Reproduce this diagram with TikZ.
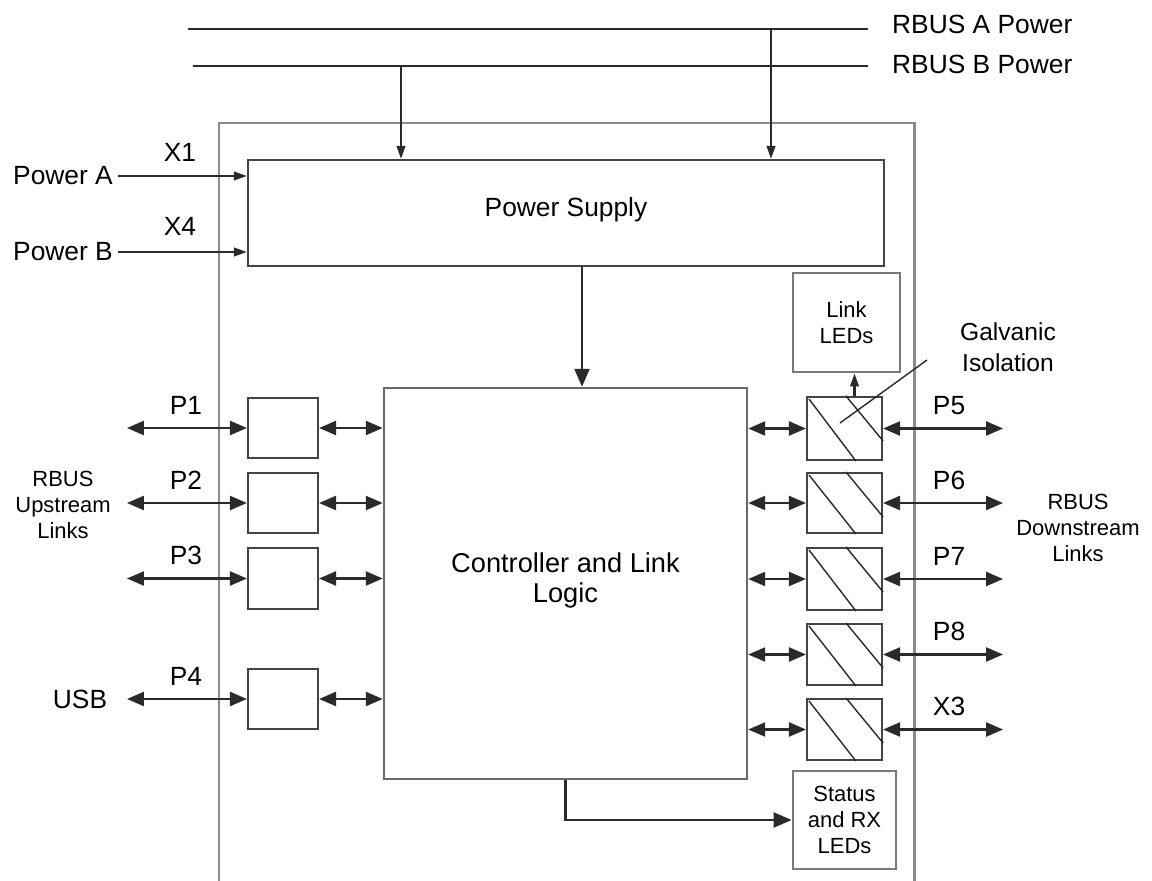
\documentclass[tikz,border=0pt]{standalone}
\usepackage{fontspec}
\setmainfont{Liberation Sans}
\usetikzlibrary{arrows.meta,fit}
\definecolor{linegray}{HTML}{2A2A2A}
\definecolor{boxgray}{HTML}{444444}
\definecolor{framegray}{HTML}{8C8C8C}
\definecolor{ledgray}{HTML}{7A7A7A}
\tikzset{
  unitbox/.style={draw=boxgray, line width=1.2pt, inner sep=0pt},
  ledbox/.style={draw=ledgray, line width=1.6pt, inner sep=0pt},
  hatch/.style={draw=linegray, line width=0.8pt},
  link/.style={draw=linegray, line width=1.3pt},
  biglink/.style={link, {Triangle[length=0.34cm,width=0.28cm]}-{Triangle[length=0.34cm,width=0.28cm]}},
  feed/.style={link, -{Triangle[length=0.26cm,width=0.17cm]}},
  bigfeed/.style={link, -{Triangle[length=0.36cm,width=0.3cm]}},
  lbl/.style={font=\fontsize{15}{17}\selectfont},
  smalllbl/.style={align=center, font=\fontsize{12.5}{14.8}\selectfont},
}
\begin{document}
\begin{tikzpicture}[x=0.02cm,y=-0.02cm]
\useasboundingbox (0,0) rectangle (1152,881);

\draw[framegray, line width=1.7pt] (219,881) |- (914,123) -- (914,881);

\coordinate (busAw) at (188,29);
\coordinate (busAe) at (868,29);
\coordinate (busBw) at (193,66);
\coordinate (busBe) at (868,66);
\draw[link] (busAw) -- (busAe);
\draw[link] (busBw) -- (busBe);
\node[lbl, anchor=west] (busAlbl) at (886,24) {RBUS A Power};
\node[lbl, anchor=west] (busBlbl) at (886,64) {RBUS B Power};

\node[unitbox, fit={(248,160) (884,266)},
  label={[lbl, yshift=0.06cm]center:Power Supply}] (ps) {};
\node[unitbox, draw=boxgray!80, line width=1.4pt, fit={(384,388) (747,779)},
  label={[align=center, font=\fontsize{15.5}{17}\selectfont, yshift=0.06cm]center:Controller and Link\\Logic}] (ctl) {};

\coordinate (tapA) at (771,29);
\coordinate (tapB) at (401,66);
\draw[feed] (tapA) -- (tapA |- ps.north);
\draw[feed] (tapB) -- (tapB |- ps.north);

\node[lbl, inner sep=0.3em] (pwrA) at (63,176) {Power A};
\node[lbl, inner sep=0.3em] (pwrB) at (63,252) {Power B};
\node[lbl] (xone) at (180,152) {X1};
\node[lbl] (xfour) at (180,226) {X4};
\draw[feed] (pwrA) -- (pwrA -| ps.west);
\draw[feed] (pwrB) -- (pwrB -| ps.west);

\draw[bigfeed] ([shift={(16,0)}]ps.south) -- ([shift={(16,0)}]ps.south |- ctl.north);

\foreach \t/\b/\lab in {398/458/P1, 473/533/P2, 548/609/P3, 669/729/P4} {
  \node[unitbox, fit={(248,\t) (318,\b)}] (up\lab) {};
  \draw[biglink] ([shift={(-120,0)}]up\lab.west) -- (up\lab.west);
  \draw[biglink] (up\lab.east) -- (up\lab.east -| ctl.west);
  \node[lbl] (uplbl\lab) at ([shift={(-61,-23)}]up\lab.west) {\lab};
}

\foreach \t/\b/\lab in {397/460/P5, 473/533/P6, 548/610/P7, 624/685/P8, 699/760/X3} {
  \node[unitbox, fit={(807,\t) (882,\b)}] (iso\lab) {};
  \draw[hatch] ([shift={(3,3)}]iso\lab.north west) -- ([shift={(50,0)}]iso\lab.south west);
  \draw[hatch] ([shift={(40,0)}]iso\lab.north west) -- ([shift={(0,45)}]iso\lab.north east);
  \draw[biglink] (iso\lab.west -| ctl.east) -- (iso\lab.west);
  \draw[biglink] (iso\lab.east) -- ([shift={(120,0)}]iso\lab.east);
  \node[lbl] (isolbl\lab) at ([shift={(66,-23)}]iso\lab.east) {\lab};
}

\node[ledbox, fit={(793,273) (900,372)},
  label={[smalllbl]center:Link\\LEDs}] (linkleds) {};
\node[ledbox, fit={(793,771) (896,869)},
  label={[smalllbl]center:Status\\and RX\\LEDs}] (statusleds) {};
\draw[feed] ([shift={(10,0)}]isoP5.north) -- ([shift={(10,0)}]isoP5.north |- linkleds.south);
\draw[bigfeed] (ctl.south) |- (statusleds.west);

\node[align=center, font=\fontsize{14}{17.6}\selectfont] (galv) at (1008,347) {Galvanic\\Isolation};
\coordinate (galvtip) at (927,360);
\coordinate (galvend) at (840,423);
\draw[hatch] (galvtip) -- (galvend);

\node[smalllbl] (upstream) at (63,505) {RBUS\\Upstream\\Links};
\node[smalllbl] (downstream) at (1078,528) {RBUS\\Downstream\\Links};
\node[lbl] (usb) at (80,699) {USB};
\end{tikzpicture}
\end{document}
